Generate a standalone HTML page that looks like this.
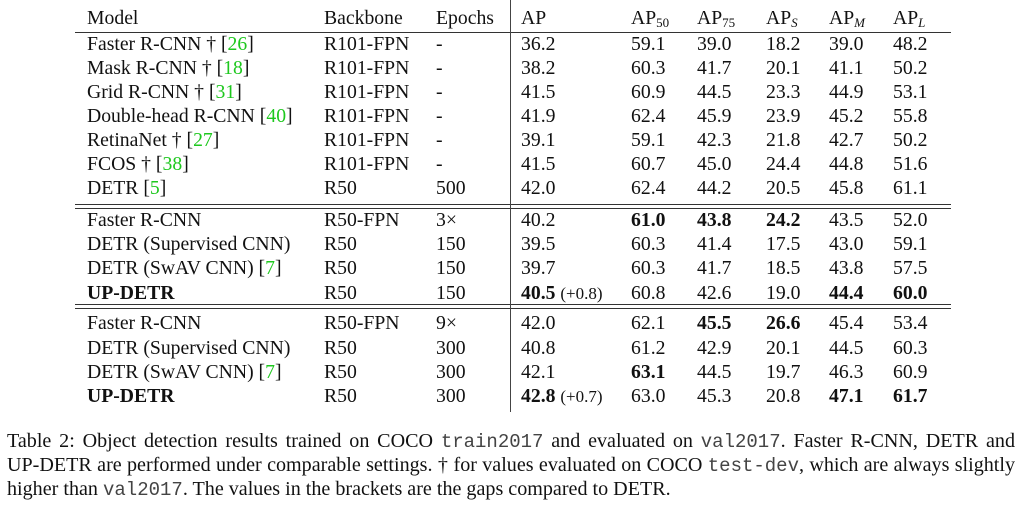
<!DOCTYPE html>
<html><head><meta charset="utf-8"><style>
body{margin:0;width:1024px;height:507px;background:#fff;overflow:hidden;position:relative;font-family:"Liberation Serif",serif;color:#111}
.c{position:absolute;font-size:19.7px;white-space:nowrap;line-height:1}
.hr{position:absolute;left:75px;width:876px;height:1.3px;background:#333}
.vr{position:absolute;left:510px;width:1.2px;background:#444}
.g{color:#1ec81e}
b{font-weight:bold}
sub{font-size:13px;vertical-align:-3px}
.cap{position:absolute;left:7px;font-size:20.1px;white-space:nowrap;line-height:1}
.j{width:1008px;text-align:justify;text-align-last:justify;white-space:normal}
.m{font-family:"Liberation Mono",monospace;font-size:19px;color:#444}
</style></head><body>
<div id="t"></div>
<div class="hr" style="top:32px"></div>
<div class="hr" style="top:204px"></div>
<div class="hr" style="top:208px"></div>
<div class="hr" style="top:304px"></div>
<div class="hr" style="top:308px"></div>
<div class="vr" style="top:0;height:412px"></div>
<div class="cap j" style="top:431px">Table 2: Object detection results trained on COCO <span class="m">train2017</span> and evaluated on <span class="m">val2017</span>. Faster R-CNN, DETR and</div>
<div class="cap j" style="top:455px">UP-DETR are performed under comparable settings. † for values evaluated on COCO <span class="m">test-dev</span>, which are always slightly</div>
<div class="cap" style="top:479px">higher than <span class="m">val2017</span>. The values in the brackets are the gaps compared to DETR.</div>
<script>
const colX=[87,324,436,521,631,697,766,829,893];
const header=['Model','Backbone','Epochs','AP','AP<sub>50</sub>','AP<sub>75</sub>','AP<sub><i>S</i></sub>','AP<sub><i>M</i></sub>','AP<sub><i>L</i></sub>'];
const rowY=[9,35,59,83,107,131,155,179,211,235,259,284,314,339,363,387];
const rows=[
header,
['Faster R-CNN † [<span class="g">26</span>]','R101-FPN','-','36.2','59.1','39.0','18.2','39.0','48.2'],
['Mask R-CNN † [<span class="g">18</span>]','R101-FPN','-','38.2','60.3','41.7','20.1','41.1','50.2'],
['Grid R-CNN † [<span class="g">31</span>]','R101-FPN','-','41.5','60.9','44.5','23.3','44.9','53.1'],
['Double-head R-CNN [<span class="g">40</span>]','R101-FPN','-','41.9','62.4','45.9','23.9','45.2','55.8'],
['RetinaNet † [<span class="g">27</span>]','R101-FPN','-','39.1','59.1','42.3','21.8','42.7','50.2'],
['FCOS † [<span class="g">38</span>]','R101-FPN','-','41.5','60.7','45.0','24.4','44.8','51.6'],
['DETR [<span class="g">5</span>]','R50','500','42.0','62.4','44.2','20.5','45.8','61.1'],
['Faster R-CNN','R50-FPN','3×','40.2','<b>61.0</b>','<b>43.8</b>','<b>24.2</b>','43.5','52.0'],
['DETR (Supervised CNN)','R50','150','39.5','60.3','41.4','17.5','43.0','59.1'],
['DETR (SwAV CNN) [<span class="g">7</span>]','R50','150','39.7','60.3','41.7','18.5','43.8','57.5'],
['<b>UP-DETR</b>','R50','150','<b>40.5</b> <span style="font-size:17px">(+0.8)</span>','60.8','42.6','19.0','<b>44.4</b>','<b>60.0</b>'],
['Faster R-CNN','R50-FPN','9×','42.0','62.1','<b>45.5</b>','<b>26.6</b>','45.4','53.4'],
['DETR (Supervised CNN)','R50','300','40.8','61.2','42.9','20.1','44.5','60.3'],
['DETR (SwAV CNN) [<span class="g">7</span>]','R50','300','42.1','<b>63.1</b>','44.5','19.7','46.3','60.9'],
['<b>UP-DETR</b>','R50','300','<b>42.8</b> <span style="font-size:17px">(+0.7)</span>','63.0','45.3','20.8','<b>47.1</b>','<b>61.7</b>']];
const t=document.getElementById('t');
rows.forEach((r,i)=>{r.forEach((v,j)=>{
const d=document.createElement('div');
d.className='c';
d.style.left=colX[j]+'px';d.style.top=rowY[i]+'px';
d.innerHTML=v;


t.appendChild(d);});});
</script>
</body></html>
